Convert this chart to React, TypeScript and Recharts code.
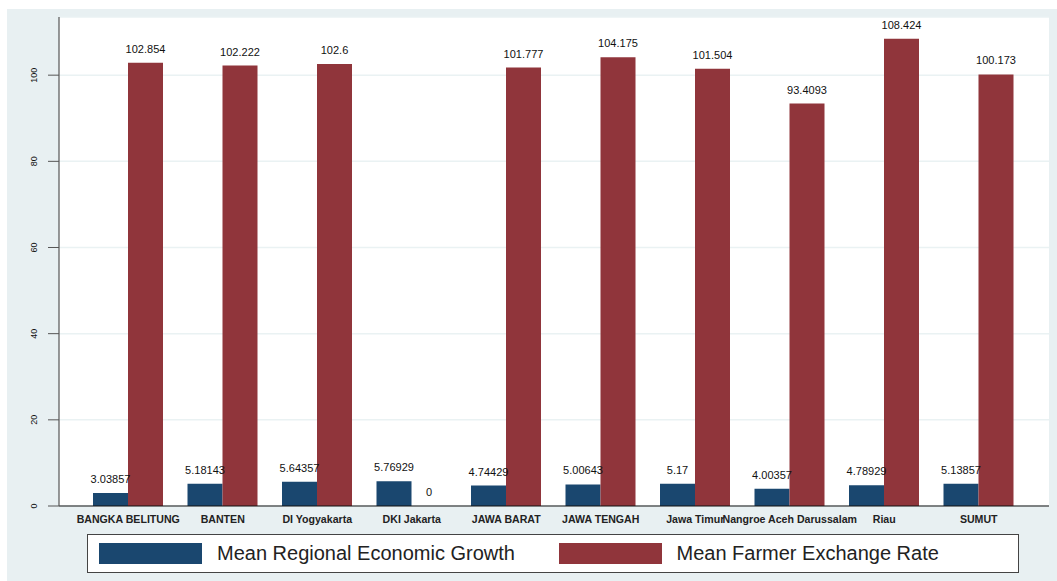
import React from "react";
import { Bar, BarChart, CartesianGrid, LabelList, Legend, XAxis, YAxis } from "recharts";

const provinces = [
  "BANGKA BELITUNG",
  "BANTEN",
  "DI Yogyakarta",
  "DKI Jakarta",
  "JAWA BARAT",
  "JAWA TENGAH",
  "Jawa Timur",
  "Nangroe Aceh Darussalam",
  "Riau",
  "SUMUT",
];
const growth = [3.03857, 5.18143, 5.64357, 5.76929, 4.74429, 5.00643, 5.17, 4.00357, 4.78929, 5.13857];
const exchangeRate = [102.854, 102.222, 102.6, 0, 101.777, 104.175, 101.504, 93.4093, 108.424, 100.173];
const yTicks = [0, 20, 40, 60, 80, 100];
const seriesOrder = ["growth", "rate"];

const data = provinces.map((name, i) => ({ name, growth: growth[i], rate: exchangeRate[i] }));

const FONT = "'Liberation Sans', Arial, sans-serif";
const BLUE = "#1a476f";
const RED = "#90353b";
const BG = "#e8f0f2";

function YTick(props: any) {
  const { x, y, payload } = props;
  return (
    <text
      x={0}
      y={0}
      transform={`translate(${x - 12.5},${y}) rotate(-90)`}
      textAnchor="middle"
      dominantBaseline="central"
      fontSize={9}
      fontFamily={FONT}
      fill="#111"
    >
      {payload.value}
    </text>
  );
}

function ValueLabel(props: any) {
  const { x, y, width, value } = props;
  if (value === undefined || value === null) return null;
  return (
    <text
      x={Number(x) + Number(width) / 2}
      y={Number(y) - 10}
      textAnchor="middle"
      fontSize={11}
      fontFamily={FONT}
      fill="#111"
    >
      {value}
    </text>
  );
}

// recharts drops the label of a zero-height bar, so the red "0" is drawn
// from the neighbouring blue bar (same baseline, one bar width to the right)
function ZeroLabel(props: any) {
  const { x, y, width, height, value } = props;
  if (value !== 0) return null;
  return (
    <text
      x={Number(x) + Number(width) * 1.5}
      y={Number(y) + Number(height) - 10}
      textAnchor="middle"
      fontSize={11}
      fontFamily={FONT}
      fill="#111"
    >
      {value}
    </text>
  );
}

function LegendBox(props: any) {
  const items = [...(props.payload || [])].sort(
    (a: any, b: any) => seriesOrder.indexOf(a.dataKey) - seriesOrder.indexOf(b.dataKey)
  );
  return (
    <div
      style={{
        boxSizing: "border-box",
        width: 932,
        height: 39,
        background: "#fff",
        border: "1px solid #444",
        display: "flex",
        alignItems: "center",
        paddingLeft: 11,
        fontFamily: FONT,
      }}
    >
      {items.map((it: any) => (
        <div key={it.value} style={{ width: 494, display: "flex", alignItems: "center" }}>
          <div style={{ width: 103, height: 21, background: it.color }} />
          <span style={{ marginLeft: 15, fontSize: 20, color: "#222" }}>{it.value}</span>
        </div>
      ))}
    </div>
  );
}

export default function App() {
  return (
    <div style={{ position: "absolute", left: 7, top: 9, width: 1050, height: 572, background: BG }}>
      <BarChart
        width={1050}
        height={572}
        data={data}
        margin={{ top: 8, right: 8, left: 0, bottom: 45 }}
        barGap={0}
        barSize={35}
      >
        <CartesianGrid vertical={false} fill="#fff" stroke="#eaf2f3" strokeWidth={1.5} />
        <XAxis
          dataKey="name"
          height={30}
          interval={0}
          tickLine={false}
          tickMargin={3}
          padding={{ left: 22, right: 23 }}
          axisLine={{ stroke: "#111", strokeWidth: 1.2 }}
          tick={{ fontSize: 10.6, fontWeight: "bold", fontFamily: FONT, fill: "#222" }}
        />
        <YAxis
          width={52}
          domain={[0, 113.5]}
          ticks={yTicks}
          tickSize={11}
          axisLine={{ stroke: "#555", strokeWidth: 1.2 }}
          tickLine={{ stroke: "#555" }}
          tick={<YTick />}
        />
        <Legend
          layout="vertical"
          align="center"
          verticalAlign="middle"
          wrapperStyle={{ left: 80, top: 525, width: 932, height: 39 }}
          content={<LegendBox />}
        />
        <Bar dataKey="growth" name="Mean Regional Economic Growth" fill={BLUE} isAnimationActive={false}>
          <LabelList dataKey="growth" content={<ValueLabel />} />
          <LabelList dataKey="rate" content={<ZeroLabel />} />
        </Bar>
        <Bar dataKey="rate" name="Mean Farmer Exchange Rate" fill={RED} isAnimationActive={false}>
          <LabelList dataKey="rate" content={<ValueLabel />} />
        </Bar>
      </BarChart>
    </div>
  );
}
